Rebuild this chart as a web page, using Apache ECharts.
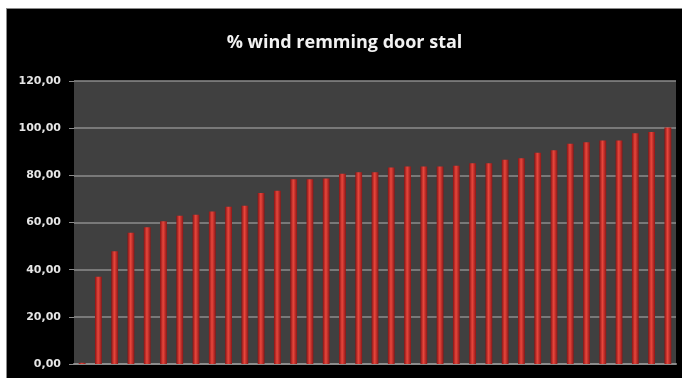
<!DOCTYPE html>
<html>
<head>
<meta charset="UTF-8">
<title>% wind remming door stal</title>
<script src="https://cdn.jsdelivr.net/npm/echarts@6/dist/echarts.min.js"></script>
<style type="text/css">
    html,body{margin:0;padding:0;background:#fff;width:682px;height:378px;overflow:hidden;}
    #chart{position:absolute;left:6px;top:8px;width:675px;height:369px;background:#000;border-left:1px solid #8a8a8a;border-top:1px solid #8a8a8a;}
</style>
</head>
<body>
<div id="chart"></div>
<script>
// stallen (volgorde zoals in de grafiek)
var stallen = [];
for (var i = 1; i <= 37; i++) { stallen.push('stal ' + i); }
// % windreductie per stal
var remming = [0.5, 37.0, 47.8, 55.7, 58.0, 60.5, 62.9, 63.3, 64.7, 66.7,
               67.1, 72.5, 73.5, 78.3, 78.3, 78.7, 80.7, 81.3, 81.3, 83.3,
               83.7, 83.7, 83.7, 84.1, 85.1, 85.1, 86.6, 87.2, 89.6, 90.6,
               93.4, 94.0, 94.8, 94.8, 97.8, 98.4, 100.3];
var yMin = 0, yMax = 120, yStap = 20;

var myChart = echarts.init(document.getElementById('chart'));

var option = {
    backgroundColor: '#000',
    animation: false,
    title: {
        text: '% wind remming door stal',
        left: 'center',
        top: 20,
        textStyle: { color: '#f2f2f2', fontFamily: 'Open Sans', fontWeight: 'bold', fontSize: 18 }
    },
    grid: {
        left: 67, top: 72, right: 6, bottom: 14,
        show: true, backgroundColor: '#404040', borderWidth: 0
    },
    xAxis: {
        type: 'category',
        data: stallen,
        axisLine: { lineStyle: { color: '#8c8c8c', width: 2 } },
        axisTick: { show: false },
        axisLabel: { show: false }
    },
    yAxis: {
        type: 'value',
        min: yMin, max: yMax, interval: yStap,
        axisLine: { show: false },
        axisTick: { show: true, length: 5, lineStyle: { color: '#8c8c8c' } },
        axisLabel: {
            margin: 13,
            color: '#e6e6e6',
            fontFamily: 'DejaVu Sans',
            fontWeight: 'bold',
            fontSize: 11,
            formatter: function (v) { return v.toFixed(2).replace('.', ','); }
        },
        splitLine: { lineStyle: { color: '#8c8c8c', width: 1.5 } }
    },
    series: [{
        type: 'bar',
        data: remming,
        barWidth: '42%',
        itemStyle: {
            color: new echarts.graphic.LinearGradient(0, 0, 1, 0, [
                { offset: 0, color: '#8a1414' },
                { offset: 0.45, color: '#e8463c' },
                { offset: 1, color: '#8e1616' }
            ])
        }
    }]
};

myChart.setOption(option);
</script>
</body>
</html>
